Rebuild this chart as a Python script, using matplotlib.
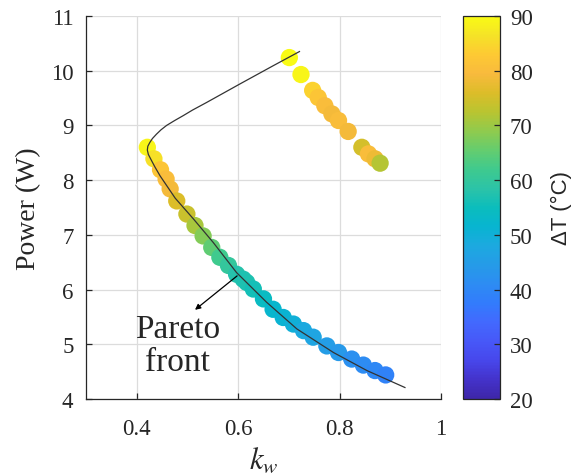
import numpy as np
import matplotlib
matplotlib.use("Agg")
import matplotlib.pyplot as plt
from matplotlib.colors import LinearSegmentedColormap, Normalize

# ---------------- data ----------------
# upper branch (dominated solutions)
upper_kw = [0.701, 0.724, 0.747, 0.758, 0.771, 0.785, 0.798, 0.817, 0.844, 0.857, 0.870, 0.880]
upper_P = [10.24, 9.93, 9.64, 9.51, 9.36, 9.21, 9.09, 8.89, 8.60, 8.48, 8.39, 8.31]
upper_dT = [90, 89, 84, 82, 80, 79, 80, 79, 75, 80, 78, 72]

# lower branch (Pareto front)
pareto_kw = [0.421, 0.434, 0.447, 0.458, 0.466, 0.479, 0.499, 0.515, 0.531, 0.548,
             0.564, 0.581, 0.597, 0.610, 0.617, 0.630, 0.650, 0.669, 0.689, 0.709,
             0.729, 0.748, 0.775, 0.798, 0.824, 0.847, 0.870, 0.891]
pareto_P = [8.60, 8.39, 8.19, 8.02, 7.84, 7.62, 7.38, 7.17, 6.98, 6.77,
            6.59, 6.44, 6.28, 6.19, 6.13, 6.01, 5.83, 5.64, 5.49, 5.37,
            5.25, 5.13, 4.97, 4.85, 4.73, 4.62, 4.52, 4.44]
pareto_dT = [89, 86, 82, 80, 79, 76, 74, 71, 68, 65,
             62, 60, 58, 57, 57, 56, 54, 52, 51, 50,
             48, 47, 45, 44, 42, 41, 40, 39]

# fitted curve
curve_kw = [0.721, 0.669, 0.604, 0.538, 0.510, 0.492, 0.475, 0.459, 0.448, 0.439,
            0.431, 0.426, 0.422, 0.421, 0.423, 0.428, 0.436, 0.446, 0.476, 0.512,
            0.551, 0.597, 0.656, 0.716, 0.788, 0.854, 0.929]
curve_P = [10.35, 10.09, 9.76, 9.42, 9.28, 9.18, 9.09, 9.00, 8.92, 8.84,
           8.76, 8.69, 8.62, 8.55, 8.47, 8.38, 8.24, 8.08, 7.67, 7.29,
           6.86, 6.31, 5.77, 5.28, 4.85, 4.52, 4.21]

x_ticks = [0.4, 0.6, 0.8, 1.0]
x_ticklabels = ["0.4", "0.6", "0.8", "1"]
y_ticks = [4, 5, 6, 7, 8, 9, 10, 11]
cb_ticks = [20, 30, 40, 50, 60, 70, 80, 90]

# ---------------- parula colormap ----------------
parula_anchors = [
    (0.2422, 0.1504, 0.6603), (0.2647, 0.1978, 0.7952), (0.2803, 0.2782, 0.9221),
    (0.2795, 0.3447, 0.9717), (0.2602, 0.4123, 0.9952), (0.1963, 0.4847, 0.9892),
    (0.1764, 0.5499, 0.9520), (0.1460, 0.6091, 0.9079), (0.1113, 0.6635, 0.8763),
    (0.0297, 0.7082, 0.8163), (0.0433, 0.7411, 0.7394), (0.1717, 0.7670, 0.6554),
    (0.2470, 0.7918, 0.5567), (0.3909, 0.8029, 0.4354), (0.5616, 0.7942, 0.3045),
    (0.7242, 0.7698, 0.1910), (0.8634, 0.7406, 0.1596), (0.9728, 0.7298, 0.2394),
    (0.9952, 0.7893, 0.2028), (0.9610, 0.8890, 0.1537), (0.9769, 0.9839, 0.0805),
]
parula = LinearSegmentedColormap.from_list("parula", parula_anchors, N=256)

# ---------------- plot ----------------
plt.rcParams["font.family"] = ["Liberation Serif", "DejaVu Serif"]
plt.rcParams["mathtext.fontset"] = "stix"
txt = "#262626"

fig = plt.figure(figsize=(5.72, 4.77), dpi=100)
ax = fig.add_axes([0.1503, 0.1614, 0.6206, 0.8030])
cax = fig.add_axes([0.810, 0.1614, 0.0642, 0.8030])

norm = Normalize(vmin=20, vmax=90)
sc = ax.scatter(pareto_kw, pareto_P, c=pareto_dT, cmap=parula, norm=norm,
                s=155, edgecolors="none", zorder=3)
ax.scatter(upper_kw, upper_P, c=upper_dT, cmap=parula, norm=norm,
           s=155, edgecolors="none", zorder=3)
ax.plot(curve_kw, curve_P, color="#333333", lw=0.9, zorder=4)

ax.annotate("", xy=(0.515, 5.63), xytext=(0.598, 6.25),
            arrowprops=dict(arrowstyle="-|>", color="black", lw=0.9,
                            mutation_scale=8, shrinkA=0, shrinkB=0), zorder=5)
ax.text(0.481, 4.98, "Pareto\nfront", ha="center", va="center", fontsize=24,
        color=txt, linespacing=1.1, zorder=5)

ax.set_xlim(0.3, 1.0)
ax.set_ylim(4, 11)
ax.set_xticks(x_ticks)
ax.set_xticklabels(x_ticklabels)
ax.set_yticks(y_ticks)
ax.grid(True, color="#dcdcdc", lw=0.9, zorder=0)
ax.set_axisbelow(True)
for s in ["top", "right"]:
    ax.spines[s].set_visible(False)
for s in ["left", "bottom"]:
    ax.spines[s].set_color(txt)
    ax.spines[s].set_linewidth(0.9)
ax.tick_params(direction="in", length=4, width=0.9, color=txt, labelcolor=txt,
               labelsize=16.5)
ax.tick_params(axis="y", pad=9)
ax.tick_params(axis="x", pad=14)
ax.set_xlabel("$k_w$", fontsize=22, color=txt, labelpad=4)
ax.set_ylabel("Power (W)", fontsize=20, color=txt, labelpad=7)

cb = fig.colorbar(sc, cax=cax)
cb.set_ticks(cb_ticks)
cb.outline.set_edgecolor(txt)
cb.outline.set_linewidth(0.9)
cax.tick_params(direction="in", length=4, width=0.9, color=txt, labelcolor=txt,
                labelsize=16.5, pad=7)
cb.set_label("ΔT (°C)", fontsize=16, color=txt, family=["Liberation Sans", "DejaVu Sans"],
             labelpad=13)

fig.savefig("out.png", dpi=100)
